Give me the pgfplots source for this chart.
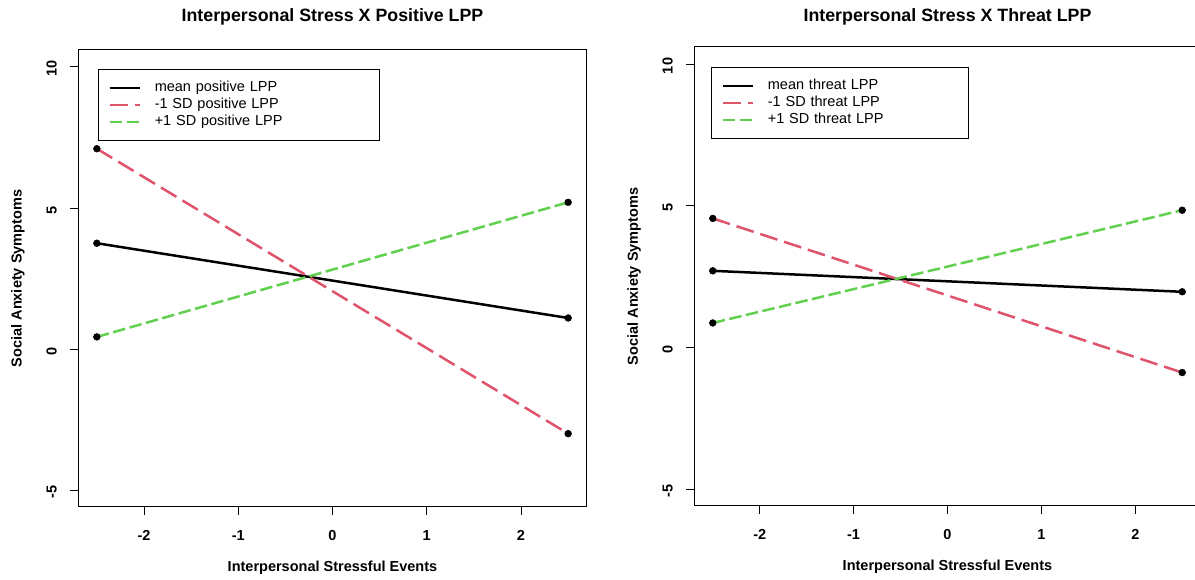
\documentclass[border=0pt]{standalone}
\usepackage{fontspec}
\setmainfont{Liberation Sans}
\usepackage{pgfplots}
\pgfplotsset{compat=1.18}
\definecolor{rred}{HTML}{DF536B}
\definecolor{rgreen}{HTML}{61D04F}

\pgfplotsset{
  rpanel/.style={
    scale only axis,
    xmin=-2.7, xmax=2.7, ymin=-5.6, ymax=10.6,
    xtick={-2,-1,0,1,2}, ytick={-5,0,5,10},
    tick pos=left, tick align=outside,
    major tick length=8pt,
    axis line style={line width=1pt},
    every tick/.style={black, line width=0.9pt},
    /pgf/number format/assume math mode=true,
    tick label style={font=\fontsize{14.5}{16}\selectfont\bfseries},
    xticklabel style={anchor=north, inner sep=0pt, yshift=-15pt},
    % rotated labels: yshift moves them away from the axis
    yticklabel style={rotate=90, anchor=south, inner sep=0pt, yshift=13pt, xshift=-2pt},
    title style={font=\fontsize{17.8}{20}\selectfont\bfseries},
    label style={font=\fontsize{14.5}{16}\selectfont\bfseries},
    legend cell align=left,
    legend style={draw=black, line width=0.8pt, font=\fontsize{14.5}{16}\selectfont,
      inner xsep=10pt, inner ysep=10pt, row sep=0pt, column sep=12pt,
      nodes={inner ysep=1.5pt, text height=10.5pt, text depth=3.5pt}},
    legend image code/.code={\draw[#1] (0pt,0pt) -- (30pt,0pt);},
    every axis plot/.append style={line width=2.5pt, mark=*,
      mark options={solid, draw=black, fill=black, line width=0.5pt}, mark size=3.4pt},
  },
  meanline/.style={black},
  lowline/.style={rred, dash pattern=on 18pt off 7pt},
  highline/.style={rgreen, dash pattern=on 12.5pt off 4.5pt},
}

\begin{document}
\begin{tikzpicture}
\useasboundingbox (0,0) rectangle (1195pt,580pt);

% left panel: positive LPP
\begin{axis}[rpanel,
  at={(78pt,73pt)}, anchor=south west, width=509pt, height=457pt,
  title={Interpersonal Stress X Positive LPP},
  title style={at={(axis description cs:0.5,1.0766)}, anchor=center, yshift=-8pt},
  xlabel={Interpersonal Stressful Events},
  xlabel style={at={(axis description cs:0.5,-0.1335)}, anchor=center},
  ylabel={Social Anxiety Symptoms},
  ylabel style={at={(axis description cs:-0.118,0.5)}, anchor=center},
  legend style={at={(0.039,0.958)}, anchor=north west,
    nodes={text width=213pt}},
]
\addplot[meanline] coordinates {(-2.5,3.75) (2.5,1.10)};
\addplot[lowline] coordinates {(-2.5,7.10) (2.5,-3.00)};
\addplot[highline] coordinates {(-2.5,0.43) (2.5,5.20)};
\legend{mean positive LPP, -1 SD positive LPP, +1 SD positive LPP}
\end{axis}

% right panel: threat LPP
\begin{axis}[rpanel,
  at={(694pt,74pt)}, anchor=south west, width=507pt, height=459pt,
  title={Interpersonal Stress X Threat LPP},
  title style={at={(axis description cs:0.5,1.0697)}, anchor=center, yshift=-8pt},
  xlabel={Interpersonal Stressful Events},
  xlabel style={at={(axis description cs:0.5,-0.1329)}, anchor=center},
  ylabel={Social Anxiety Symptoms},
  ylabel style={at={(axis description cs:-0.118,0.5)}, anchor=center},
  legend style={at={(0.0335,0.956)}, anchor=north west,
    nodes={text width=189pt}},
]
\addplot[meanline] coordinates {(-2.5,2.70) (2.5,1.96)};
\addplot[lowline] coordinates {(-2.5,4.55) (2.5,-0.89)};
\addplot[highline] coordinates {(-2.5,0.86) (2.5,4.84)};
\legend{mean threat LPP, -1 SD threat LPP, +1 SD threat LPP}
\end{axis}
\end{tikzpicture}
\end{document}
